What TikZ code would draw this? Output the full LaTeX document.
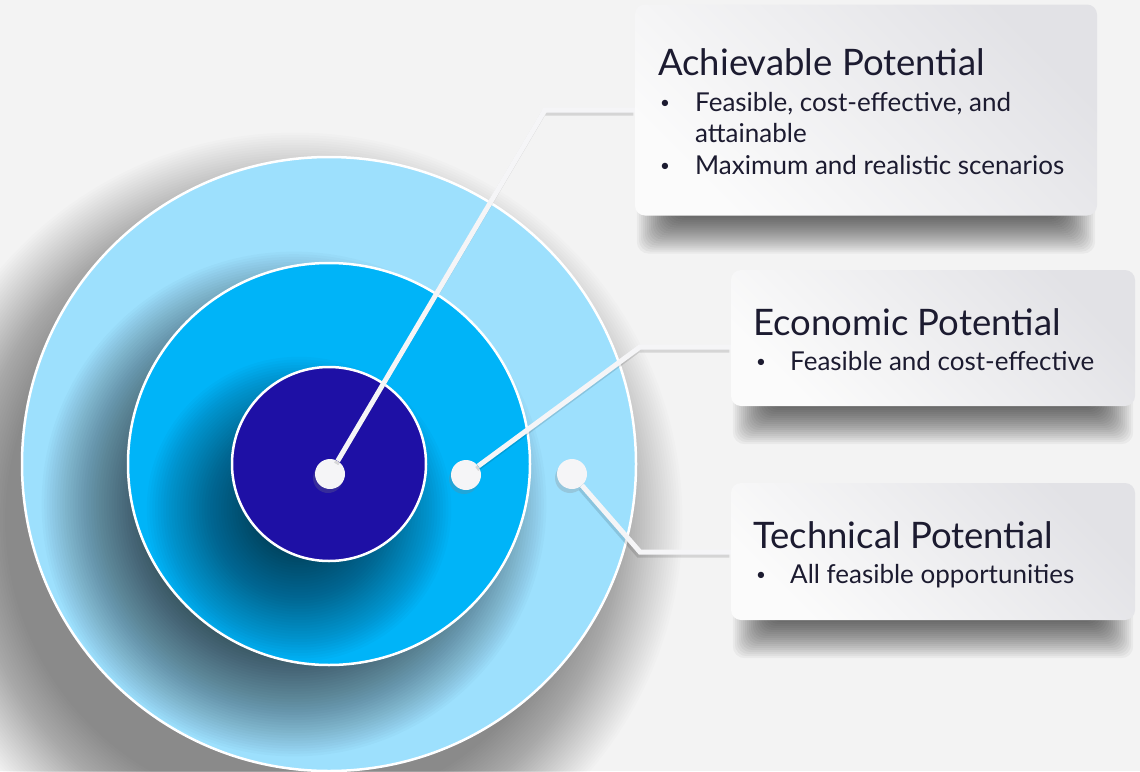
\documentclass[tikz,border=0pt]{standalone}
\usepackage{fontspec}
\setsansfont{Lato}
\usepackage{tikz}
\usetikzlibrary{
  calc,
  backgrounds,
  shadows,
}
\definecolor{potpaper}{HTML}{F3F3F3}
\definecolor{potouter}{HTML}{9DE0FD}
\definecolor{potmid}{HTML}{00B4F8}
\definecolor{potinner}{HTML}{1E10A5}
\definecolor{potdark}{HTML}{1C1B30}
\definecolor{potdot}{HTML}{F5F5F7}
\definecolor{potcardtop}{HTML}{E2E2E6}
\definecolor{potcardbot}{HTML}{FBFBFB}
\pgfdeclarelayer{boxshade}
\pgfsetlayers{background,boxshade,main}
\newcommand{\potbullet}{\raisebox{2.5pt}{\fontsize{17}{17}\selectfont\textbullet}}

\begin{document}
\begin{tikzpicture}[
  x=1pt, y=-1pt,
  ring/.style={
    circle, draw=white, line width=2.5pt, inner sep=0pt,
  },
  dot/.style={
    circle, fill=potdot, inner sep=0pt, minimum size=30pt,
    drop shadow={shadow xshift=-2pt, shadow yshift=-4pt, opacity=0.25},
  },
  card/.style={
    rounded corners=10pt, top color=potcardtop, bottom color=potcardbot,
    shading angle=-45, inner sep=0pt,
  },
  link/.style={
    draw=potdot, line width=5pt,
  },
  linkshade/.style={
    draw=black, line width=5pt, opacity=0.12,
    transform canvas={xshift=-1.5pt, yshift=-3pt},
  },
  headline/.style={
    font=\sffamily\fontsize{36.5}{40}\selectfont, text=potdark,
    anchor=base west, inner sep=0pt,
  },
  bullets/.style={
    font=\sffamily\fontsize{26}{31.5}\selectfont, text=potdark,
    anchor=base west, inner sep=0pt,
  },
]
  \useasboundingbox (0,0) rectangle (1140,771);
  \clip (0,0) rectangle (1140,771);
  \begin{scope}[on background layer]
    \fill[potpaper] (0,0) rectangle (1140,771);
  \end{scope}

  % Halo under the target
  \foreach \k in {0,...,39}
    \fill[black, opacity=0.012] (295,520) circle ({290+2.5*\k});

  % Rings
  \node[ring, fill=potouter, minimum size=614pt] (outer) at (329,464) {};
  \begin{scope}
    \clip (outer.center) circle (306);
    \foreach \k in {0,...,39}
      \fill[black, opacity=0.019] ($(outer.center)+(-35,40)$) circle ({151+2.6*\k});
  \end{scope}
  \node[ring, fill=potmid, minimum size=402pt] (middle) at (329,464) {};
  \begin{scope}
    \clip (middle.center) circle (200);
    \foreach \k in {0,...,39}
      \fill[black, opacity=0.018] ($(middle.center)+(-30,45)$) circle ({45+2.75*\k});
  \end{scope}
  \node[ring, fill=potinner, minimum size=194pt] (inner) at (329,464) {};

  % Cards
  \node[card, minimum width=462pt, minimum height=211pt] (achv) at (866,110) {};
  \node[card, minimum width=404pt, minimum height=136pt] (econ) at (933,338) {};
  \node[card, minimum width=404pt, minimum height=137pt] (tech) at (933,551.5) {};
  \begin{pgfonlayer}{boxshade}
    \foreach \card in {achv,econ,tech}
      \foreach \k in {0,...,19}
        \fill[black, opacity=0.04, rounded corners=12pt]
          ($(\card.south west)+({40-2*\k},-40)$) rectangle
          ($(\card.south east)+({-40+2*\k},{2*\k})$);
  \end{pgfonlayer}

  % Card texts
  \node[headline] (achvT) at (658,75) {Achievable Potential};
  \node[bullets] (achvL) at (660,111) {%
    \begin{tabular}[t]{@{}p{35pt}@{}l@{}}
      \potbullet & Feasible, cost-effective, and\\
                 & attainable\\
      \potbullet & Maximum and realistic scenarios
    \end{tabular}};
  \node[headline] (econT) at (753,335) {Economic Potential};
  \node[bullets] (econL) at (756,370) {%
    \begin{tabular}[t]{@{}p{34pt}@{}l@{}}
      \potbullet & Feasible and cost-effective
    \end{tabular}};
  \node[headline] (techT) at (753,548) {Technical Potential};
  \node[bullets] (techL) at (756,583) {%
    \begin{tabular}[t]{@{}p{34pt}@{}l@{}}
      \potbullet & All feasible opportunities
    \end{tabular}};

  % Pointers
  \node[dot] (dA) at (330,474) {};
  \node[dot] (dB) at (466,475) {};
  \node[dot] (dC) at (572,474) {};
  \coordinate (kA) at (545,110);
  \coordinate (kB) at (640,347);
  \coordinate (kC) at (640,552);
  \draw[linkshade] (dA) -- (kA) -- (achv.west |- kA);
  \draw[linkshade] (dB) -- (kB) -- (econ.west |- kB);
  \draw[linkshade] (dC) -- (kC) -- (tech.west |- kC);
  \draw[link] (dA) -- (kA) -- (achv.west |- kA);
  \draw[link] (dB) -- (kB) -- (econ.west |- kB);
  \draw[link] (dC) -- (kC) -- (tech.west |- kC);
\end{tikzpicture}
\end{document}
